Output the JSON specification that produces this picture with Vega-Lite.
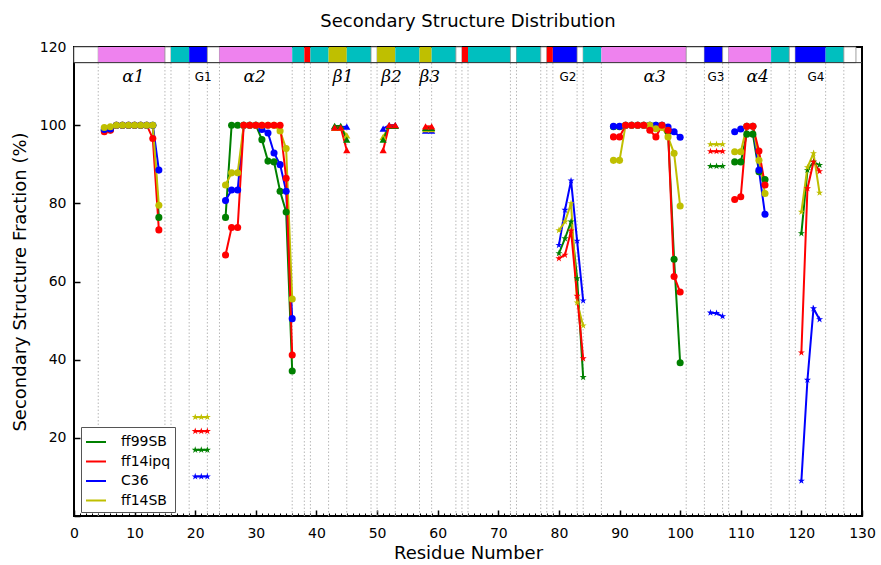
{
  "$schema": "https://vega.github.io/schema/vega-lite/v6.json",
  "width": 788,
  "height": 469,
  "autosize": {"type": "none"},
  "padding": {"left": 74, "top": 47, "right": 19, "bottom": 49},
  "background": "white",
  "title": {"text": "Secondary Structure Distribution", "fontSize": 18, "font": "DejaVu Sans", "fontWeight": "normal", "color": "black", "offset": 9},
  "datasets": {
    "strip": [
      {"s":0,"e":4,"ss":"coil"},{"s":4,"e":15,"ss":"helix"},{"s":15,"e":16,"ss":"coil"},{"s":16,"e":19,"ss":"turn"},
      {"s":19,"e":22,"ss":"g310"},{"s":22,"e":24,"ss":"coil"},{"s":24,"e":36,"ss":"helix"},{"s":36,"e":38,"ss":"turn"},
      {"s":38,"e":39,"ss":"bridge"},{"s":39,"e":42,"ss":"turn"},{"s":42,"e":45,"ss":"strand"},{"s":45,"e":49,"ss":"turn"},
      {"s":49,"e":50,"ss":"coil"},{"s":50,"e":53,"ss":"strand"},{"s":53,"e":57,"ss":"turn"},{"s":57,"e":59,"ss":"strand"},
      {"s":59,"e":63,"ss":"turn"},{"s":63,"e":64,"ss":"coil"},{"s":64,"e":65,"ss":"bridge"},{"s":65,"e":72,"ss":"turn"},
      {"s":72,"e":73,"ss":"coil"},{"s":73,"e":77,"ss":"turn"},{"s":77,"e":78,"ss":"coil"},{"s":78,"e":79,"ss":"bridge"},
      {"s":79,"e":83,"ss":"g310"},{"s":83,"e":84,"ss":"coil"},{"s":84,"e":87,"ss":"turn"},{"s":87,"e":101,"ss":"helix"},
      {"s":101,"e":104,"ss":"coil"},{"s":104,"e":107,"ss":"g310"},{"s":107,"e":108,"ss":"coil"},{"s":108,"e":115,"ss":"helix"},
      {"s":115,"e":118,"ss":"turn"},{"s":118,"e":119,"ss":"coil"},{"s":119,"e":124,"ss":"g310"},{"s":124,"e":127,"ss":"turn"},
      {"s":127,"e":129,"ss":"coil"}
    ],
    "labels": [
      {"x":9.8,"t":"α1"},{"x":21.3,"t":"G1"},{"x":29.8,"t":"α2"},{"x":44.4,"t":"β1"},{"x":52.4,"t":"β2"},{"x":58.7,"t":"β3"},
      {"x":81.5,"t":"G2"},{"x":95.8,"t":"α3"},{"x":105.9,"t":"G3"},{"x":112.8,"t":"α4"},{"x":122.4,"t":"G4"}
    ],
    "ss": [
      {"res":5,"model":"ff99SB","pct":98.7,"region":"a1","kind":"helix"},{"res":6,"model":"ff99SB","pct":98.8,"region":"a1","kind":"helix"},{"res":7,"model":"ff99SB","pct":100,"region":"a1","kind":"helix"},{"res":8,"model":"ff99SB","pct":100,"region":"a1","kind":"helix"},{"res":9,"model":"ff99SB","pct":100,"region":"a1","kind":"helix"},{"res":10,"model":"ff99SB","pct":100,"region":"a1","kind":"helix"},{"res":11,"model":"ff99SB","pct":100,"region":"a1","kind":"helix"},{"res":12,"model":"ff99SB","pct":100,"region":"a1","kind":"helix"},{"res":13,"model":"ff99SB","pct":100,"region":"a1","kind":"helix"},{"res":14,"model":"ff99SB","pct":76.4,"region":"a1","kind":"helix"},
      {"res":5,"model":"ff14ipq","pct":98.3,"region":"a1","kind":"helix"},{"res":6,"model":"ff14ipq","pct":98.7,"region":"a1","kind":"helix"},{"res":7,"model":"ff14ipq","pct":100,"region":"a1","kind":"helix"},{"res":8,"model":"ff14ipq","pct":100,"region":"a1","kind":"helix"},{"res":9,"model":"ff14ipq","pct":100,"region":"a1","kind":"helix"},{"res":10,"model":"ff14ipq","pct":100,"region":"a1","kind":"helix"},{"res":11,"model":"ff14ipq","pct":100,"region":"a1","kind":"helix"},{"res":12,"model":"ff14ipq","pct":100,"region":"a1","kind":"helix"},{"res":13,"model":"ff14ipq","pct":96.6,"region":"a1","kind":"helix"},{"res":14,"model":"ff14ipq","pct":73.2,"region":"a1","kind":"helix"},
      {"res":5,"model":"C36","pct":98.9,"region":"a1","kind":"helix"},{"res":6,"model":"C36","pct":99.0,"region":"a1","kind":"helix"},{"res":7,"model":"C36","pct":100,"region":"a1","kind":"helix"},{"res":8,"model":"C36","pct":100,"region":"a1","kind":"helix"},{"res":9,"model":"C36","pct":100,"region":"a1","kind":"helix"},{"res":10,"model":"C36","pct":100,"region":"a1","kind":"helix"},{"res":11,"model":"C36","pct":100,"region":"a1","kind":"helix"},{"res":12,"model":"C36","pct":100,"region":"a1","kind":"helix"},{"res":13,"model":"C36","pct":100,"region":"a1","kind":"helix"},{"res":14,"model":"C36","pct":88.5,"region":"a1","kind":"helix"},
      {"res":5,"model":"ff14SB","pct":99.4,"region":"a1","kind":"helix"},{"res":6,"model":"ff14SB","pct":99.6,"region":"a1","kind":"helix"},{"res":7,"model":"ff14SB","pct":100,"region":"a1","kind":"helix"},{"res":8,"model":"ff14SB","pct":100,"region":"a1","kind":"helix"},{"res":9,"model":"ff14SB","pct":100,"region":"a1","kind":"helix"},{"res":10,"model":"ff14SB","pct":100,"region":"a1","kind":"helix"},{"res":11,"model":"ff14SB","pct":100,"region":"a1","kind":"helix"},{"res":12,"model":"ff14SB","pct":100,"region":"a1","kind":"helix"},{"res":13,"model":"ff14SB","pct":100,"region":"a1","kind":"helix"},{"res":14,"model":"ff14SB","pct":79.5,"region":"a1","kind":"helix"},

      {"res":25,"model":"ff99SB","pct":76.4,"region":"a2","kind":"helix"},{"res":26,"model":"ff99SB","pct":100,"region":"a2","kind":"helix"},{"res":27,"model":"ff99SB","pct":100,"region":"a2","kind":"helix"},{"res":28,"model":"ff99SB","pct":100,"region":"a2","kind":"helix"},{"res":29,"model":"ff99SB","pct":100,"region":"a2","kind":"helix"},{"res":30,"model":"ff99SB","pct":100,"region":"a2","kind":"helix"},{"res":31,"model":"ff99SB","pct":96.3,"region":"a2","kind":"helix"},{"res":32,"model":"ff99SB","pct":90.8,"region":"a2","kind":"helix"},{"res":33,"model":"ff99SB","pct":90.6,"region":"a2","kind":"helix"},{"res":34,"model":"ff99SB","pct":83.1,"region":"a2","kind":"helix"},{"res":35,"model":"ff99SB","pct":77.8,"region":"a2","kind":"helix"},{"res":36,"model":"ff99SB","pct":37.1,"region":"a2","kind":"helix"},
      {"res":25,"model":"C36","pct":80.7,"region":"a2","kind":"helix"},{"res":26,"model":"C36","pct":83.4,"region":"a2","kind":"helix"},{"res":27,"model":"C36","pct":83.4,"region":"a2","kind":"helix"},{"res":28,"model":"C36","pct":100,"region":"a2","kind":"helix"},{"res":29,"model":"C36","pct":100,"region":"a2","kind":"helix"},{"res":30,"model":"C36","pct":100,"region":"a2","kind":"helix"},{"res":31,"model":"C36","pct":98.9,"region":"a2","kind":"helix"},{"res":32,"model":"C36","pct":98.0,"region":"a2","kind":"helix"},{"res":33,"model":"C36","pct":92.9,"region":"a2","kind":"helix"},{"res":34,"model":"C36","pct":89.9,"region":"a2","kind":"helix"},{"res":35,"model":"C36","pct":83.1,"region":"a2","kind":"helix"},{"res":36,"model":"C36","pct":50.5,"region":"a2","kind":"helix"},
      {"res":25,"model":"ff14SB","pct":84.7,"region":"a2","kind":"helix"},{"res":26,"model":"ff14SB","pct":87.8,"region":"a2","kind":"helix"},{"res":27,"model":"ff14SB","pct":87.8,"region":"a2","kind":"helix"},{"res":28,"model":"ff14SB","pct":100,"region":"a2","kind":"helix"},{"res":29,"model":"ff14SB","pct":100,"region":"a2","kind":"helix"},{"res":30,"model":"ff14SB","pct":100,"region":"a2","kind":"helix"},{"res":31,"model":"ff14SB","pct":100,"region":"a2","kind":"helix"},{"res":32,"model":"ff14SB","pct":100,"region":"a2","kind":"helix"},{"res":33,"model":"ff14SB","pct":100,"region":"a2","kind":"helix"},{"res":34,"model":"ff14SB","pct":98.5,"region":"a2","kind":"helix"},{"res":35,"model":"ff14SB","pct":94.0,"region":"a2","kind":"helix"},{"res":36,"model":"ff14SB","pct":55.5,"region":"a2","kind":"helix"},
      {"res":25,"model":"ff14ipq","pct":66.8,"region":"a2","kind":"helix"},{"res":26,"model":"ff14ipq","pct":73.8,"region":"a2","kind":"helix"},{"res":27,"model":"ff14ipq","pct":73.8,"region":"a2","kind":"helix"},{"res":28,"model":"ff14ipq","pct":100,"region":"a2","kind":"helix"},{"res":29,"model":"ff14ipq","pct":100,"region":"a2","kind":"helix"},{"res":30,"model":"ff14ipq","pct":100,"region":"a2","kind":"helix"},{"res":31,"model":"ff14ipq","pct":100,"region":"a2","kind":"helix"},{"res":32,"model":"ff14ipq","pct":100,"region":"a2","kind":"helix"},{"res":33,"model":"ff14ipq","pct":100,"region":"a2","kind":"helix"},{"res":34,"model":"ff14ipq","pct":100,"region":"a2","kind":"helix"},{"res":35,"model":"ff14ipq","pct":86.4,"region":"a2","kind":"helix"},{"res":36,"model":"ff14ipq","pct":41.2,"region":"a2","kind":"helix"},

      {"res":43,"model":"C36","pct":99.5,"region":"b1","kind":"strand"},{"res":44,"model":"C36","pct":99.5,"region":"b1","kind":"strand"},{"res":45,"model":"C36","pct":99.6,"region":"b1","kind":"strand"},
      {"res":43,"model":"ff14SB","pct":99.3,"region":"b1","kind":"strand"},{"res":44,"model":"ff14SB","pct":99.3,"region":"b1","kind":"strand"},{"res":45,"model":"ff14SB","pct":97.4,"region":"b1","kind":"strand"},
      {"res":43,"model":"ff99SB","pct":99.8,"region":"b1","kind":"strand"},{"res":44,"model":"ff99SB","pct":99.8,"region":"b1","kind":"strand"},{"res":45,"model":"ff99SB","pct":96.3,"region":"b1","kind":"strand"},
      {"res":43,"model":"ff14ipq","pct":99.4,"region":"b1","kind":"strand"},{"res":44,"model":"ff14ipq","pct":99.4,"region":"b1","kind":"strand"},{"res":45,"model":"ff14ipq","pct":93.6,"region":"b1","kind":"strand"},

      {"res":51,"model":"C36","pct":99.1,"region":"b2","kind":"strand"},{"res":52,"model":"C36","pct":100,"region":"b2","kind":"strand"},{"res":53,"model":"C36","pct":100,"region":"b2","kind":"strand"},
      {"res":51,"model":"ff14SB","pct":97.0,"region":"b2","kind":"strand"},{"res":52,"model":"ff14SB","pct":99.8,"region":"b2","kind":"strand"},{"res":53,"model":"ff14SB","pct":99.8,"region":"b2","kind":"strand"},
      {"res":51,"model":"ff99SB","pct":96.3,"region":"b2","kind":"strand"},{"res":52,"model":"ff99SB","pct":99.8,"region":"b2","kind":"strand"},{"res":53,"model":"ff99SB","pct":99.8,"region":"b2","kind":"strand"},
      {"res":51,"model":"ff14ipq","pct":93.6,"region":"b2","kind":"strand"},{"res":52,"model":"ff14ipq","pct":100,"region":"b2","kind":"strand"},{"res":53,"model":"ff14ipq","pct":100,"region":"b2","kind":"strand"},

      {"res":58,"model":"C36","pct":98.6,"region":"b3","kind":"strand"},{"res":59,"model":"C36","pct":98.6,"region":"b3","kind":"strand"},
      {"res":58,"model":"ff14SB","pct":99.0,"region":"b3","kind":"strand"},{"res":59,"model":"ff14SB","pct":99.0,"region":"b3","kind":"strand"},
      {"res":58,"model":"ff99SB","pct":99.3,"region":"b3","kind":"strand"},{"res":59,"model":"ff99SB","pct":99.3,"region":"b3","kind":"strand"},
      {"res":58,"model":"ff14ipq","pct":99.7,"region":"b3","kind":"strand"},{"res":59,"model":"ff14ipq","pct":99.7,"region":"b3","kind":"strand"},

      {"res":20,"model":"ff99SB","pct":16.9,"region":"g1","kind":"g310"},{"res":21,"model":"ff99SB","pct":16.9,"region":"g1","kind":"g310"},{"res":22,"model":"ff99SB","pct":16.9,"region":"g1","kind":"g310"},
      {"res":20,"model":"C36","pct":10.1,"region":"g1","kind":"g310"},{"res":21,"model":"C36","pct":10.1,"region":"g1","kind":"g310"},{"res":22,"model":"C36","pct":10.1,"region":"g1","kind":"g310"},
      {"res":20,"model":"ff14SB","pct":25.3,"region":"g1","kind":"g310"},{"res":21,"model":"ff14SB","pct":25.3,"region":"g1","kind":"g310"},{"res":22,"model":"ff14SB","pct":25.3,"region":"g1","kind":"g310"},
      {"res":20,"model":"ff14ipq","pct":21.7,"region":"g1","kind":"g310"},{"res":21,"model":"ff14ipq","pct":21.7,"region":"g1","kind":"g310"},{"res":22,"model":"ff14ipq","pct":21.7,"region":"g1","kind":"g310"},

      {"res":80,"model":"ff99SB","pct":67.2,"region":"g2","kind":"g310"},{"res":81,"model":"ff99SB","pct":71.0,"region":"g2","kind":"g310"},{"res":82,"model":"ff99SB","pct":75.3,"region":"g2","kind":"g310"},{"res":83,"model":"ff99SB","pct":60.8,"region":"g2","kind":"g310"},{"res":84,"model":"ff99SB","pct":35.5,"region":"g2","kind":"g310"},
      {"res":80,"model":"C36","pct":69.3,"region":"g2","kind":"g310"},{"res":81,"model":"C36","pct":78.3,"region":"g2","kind":"g310"},{"res":82,"model":"C36","pct":85.8,"region":"g2","kind":"g310"},{"res":83,"model":"C36","pct":70.4,"region":"g2","kind":"g310"},{"res":84,"model":"C36","pct":55.1,"region":"g2","kind":"g310"},
      {"res":80,"model":"ff14SB","pct":73.1,"region":"g2","kind":"g310"},{"res":81,"model":"ff14SB","pct":75.3,"region":"g2","kind":"g310"},{"res":82,"model":"ff14SB","pct":80.0,"region":"g2","kind":"g310"},{"res":83,"model":"ff14SB","pct":54.6,"region":"g2","kind":"g310"},{"res":84,"model":"ff14SB","pct":48.7,"region":"g2","kind":"g310"},
      {"res":80,"model":"ff14ipq","pct":65.9,"region":"g2","kind":"g310"},{"res":81,"model":"ff14ipq","pct":66.8,"region":"g2","kind":"g310"},{"res":82,"model":"ff14ipq","pct":73.0,"region":"g2","kind":"g310"},{"res":83,"model":"ff14ipq","pct":56.3,"region":"g2","kind":"g310"},{"res":84,"model":"ff14ipq","pct":40.3,"region":"g2","kind":"g310"},

      {"res":89,"model":"ff99SB","pct":99.6,"region":"a3","kind":"helix"},{"res":90,"model":"ff99SB","pct":99.6,"region":"a3","kind":"helix"},{"res":91,"model":"ff99SB","pct":100,"region":"a3","kind":"helix"},{"res":92,"model":"ff99SB","pct":100,"region":"a3","kind":"helix"},{"res":93,"model":"ff99SB","pct":100,"region":"a3","kind":"helix"},{"res":94,"model":"ff99SB","pct":100,"region":"a3","kind":"helix"},{"res":95,"model":"ff99SB","pct":100,"region":"a3","kind":"helix"},{"res":96,"model":"ff99SB","pct":100,"region":"a3","kind":"helix"},{"res":97,"model":"ff99SB","pct":100,"region":"a3","kind":"helix"},{"res":98,"model":"ff99SB","pct":98.3,"region":"a3","kind":"helix"},{"res":99,"model":"ff99SB","pct":65.7,"region":"a3","kind":"helix"},{"res":100,"model":"ff99SB","pct":39.2,"region":"a3","kind":"helix"},
      {"res":89,"model":"C36","pct":99.7,"region":"a3","kind":"helix"},{"res":90,"model":"C36","pct":99.7,"region":"a3","kind":"helix"},{"res":91,"model":"C36","pct":100,"region":"a3","kind":"helix"},{"res":92,"model":"C36","pct":100,"region":"a3","kind":"helix"},{"res":93,"model":"C36","pct":100,"region":"a3","kind":"helix"},{"res":94,"model":"C36","pct":100,"region":"a3","kind":"helix"},{"res":95,"model":"C36","pct":100,"region":"a3","kind":"helix"},{"res":96,"model":"C36","pct":100,"region":"a3","kind":"helix"},{"res":97,"model":"C36","pct":100,"region":"a3","kind":"helix"},{"res":98,"model":"C36","pct":99.5,"region":"a3","kind":"helix"},{"res":99,"model":"C36","pct":98.3,"region":"a3","kind":"helix"},{"res":100,"model":"C36","pct":96.9,"region":"a3","kind":"helix"},
      {"res":89,"model":"ff14SB","pct":91.0,"region":"a3","kind":"helix"},{"res":90,"model":"ff14SB","pct":91.0,"region":"a3","kind":"helix"},{"res":91,"model":"ff14SB","pct":100,"region":"a3","kind":"helix"},{"res":92,"model":"ff14SB","pct":100,"region":"a3","kind":"helix"},{"res":93,"model":"ff14SB","pct":100,"region":"a3","kind":"helix"},{"res":94,"model":"ff14SB","pct":100,"region":"a3","kind":"helix"},{"res":95,"model":"ff14SB","pct":100,"region":"a3","kind":"helix"},{"res":96,"model":"ff14SB","pct":99.1,"region":"a3","kind":"helix"},{"res":97,"model":"ff14SB","pct":99.4,"region":"a3","kind":"helix"},{"res":98,"model":"ff14SB","pct":97.0,"region":"a3","kind":"helix"},{"res":99,"model":"ff14SB","pct":92.8,"region":"a3","kind":"helix"},{"res":100,"model":"ff14SB","pct":79.3,"region":"a3","kind":"helix"},
      {"res":89,"model":"ff14ipq","pct":97.0,"region":"a3","kind":"helix"},{"res":90,"model":"ff14ipq","pct":97.0,"region":"a3","kind":"helix"},{"res":91,"model":"ff14ipq","pct":100,"region":"a3","kind":"helix"},{"res":92,"model":"ff14ipq","pct":100,"region":"a3","kind":"helix"},{"res":93,"model":"ff14ipq","pct":100,"region":"a3","kind":"helix"},{"res":94,"model":"ff14ipq","pct":100,"region":"a3","kind":"helix"},{"res":95,"model":"ff14ipq","pct":98.7,"region":"a3","kind":"helix"},{"res":96,"model":"ff14ipq","pct":97.0,"region":"a3","kind":"helix"},{"res":97,"model":"ff14ipq","pct":100,"region":"a3","kind":"helix"},{"res":98,"model":"ff14ipq","pct":98.7,"region":"a3","kind":"helix"},{"res":99,"model":"ff14ipq","pct":61.3,"region":"a3","kind":"helix"},{"res":100,"model":"ff14ipq","pct":57.3,"region":"a3","kind":"helix"},

      {"res":105,"model":"ff99SB","pct":89.5,"region":"g3","kind":"g310"},{"res":106,"model":"ff99SB","pct":89.5,"region":"g3","kind":"g310"},{"res":107,"model":"ff99SB","pct":89.5,"region":"g3","kind":"g310"},
      {"res":105,"model":"C36","pct":52.0,"region":"g3","kind":"g310"},{"res":106,"model":"C36","pct":51.9,"region":"g3","kind":"g310"},{"res":107,"model":"C36","pct":51.1,"region":"g3","kind":"g310"},
      {"res":105,"model":"ff14SB","pct":95.1,"region":"g3","kind":"g310"},{"res":106,"model":"ff14SB","pct":95.1,"region":"g3","kind":"g310"},{"res":107,"model":"ff14SB","pct":95.1,"region":"g3","kind":"g310"},
      {"res":105,"model":"ff14ipq","pct":93.3,"region":"g3","kind":"g310"},{"res":106,"model":"ff14ipq","pct":93.3,"region":"g3","kind":"g310"},{"res":107,"model":"ff14ipq","pct":93.3,"region":"g3","kind":"g310"},

      {"res":109,"model":"ff99SB","pct":90.6,"region":"a4","kind":"helix"},{"res":110,"model":"ff99SB","pct":90.6,"region":"a4","kind":"helix"},{"res":111,"model":"ff99SB","pct":97.7,"region":"a4","kind":"helix"},{"res":112,"model":"ff99SB","pct":97.7,"region":"a4","kind":"helix"},{"res":113,"model":"ff99SB","pct":88.1,"region":"a4","kind":"helix"},{"res":114,"model":"ff99SB","pct":86.1,"region":"a4","kind":"helix"},
      {"res":109,"model":"C36","pct":98.3,"region":"a4","kind":"helix"},{"res":110,"model":"C36","pct":99.0,"region":"a4","kind":"helix"},{"res":111,"model":"C36","pct":99.7,"region":"a4","kind":"helix"},{"res":112,"model":"C36","pct":99.7,"region":"a4","kind":"helix"},{"res":113,"model":"C36","pct":88.5,"region":"a4","kind":"helix"},{"res":114,"model":"C36","pct":77.2,"region":"a4","kind":"helix"},
      {"res":109,"model":"ff14SB","pct":93.2,"region":"a4","kind":"helix"},{"res":110,"model":"ff14SB","pct":93.2,"region":"a4","kind":"helix"},{"res":111,"model":"ff14SB","pct":99.7,"region":"a4","kind":"helix"},{"res":112,"model":"ff14SB","pct":99.7,"region":"a4","kind":"helix"},{"res":113,"model":"ff14SB","pct":91.0,"region":"a4","kind":"helix"},{"res":114,"model":"ff14SB","pct":82.5,"region":"a4","kind":"helix"},
      {"res":109,"model":"ff14ipq","pct":81.0,"region":"a4","kind":"helix"},{"res":110,"model":"ff14ipq","pct":81.7,"region":"a4","kind":"helix"},{"res":111,"model":"ff14ipq","pct":99.7,"region":"a4","kind":"helix"},{"res":112,"model":"ff14ipq","pct":99.7,"region":"a4","kind":"helix"},{"res":113,"model":"ff14ipq","pct":93.4,"region":"a4","kind":"helix"},{"res":114,"model":"ff14ipq","pct":84.7,"region":"a4","kind":"helix"},

      {"res":120,"model":"C36","pct":9.0,"region":"g4","kind":"g310"},{"res":121,"model":"C36","pct":34.8,"region":"g4","kind":"g310"},{"res":122,"model":"C36","pct":53.1,"region":"g4","kind":"g310"},{"res":123,"model":"C36","pct":50.3,"region":"g4","kind":"g310"},
      {"res":120,"model":"ff99SB","pct":72.3,"region":"g4","kind":"g310"},{"res":121,"model":"ff99SB","pct":88.5,"region":"g4","kind":"g310"},{"res":122,"model":"ff99SB","pct":90.6,"region":"g4","kind":"g310"},{"res":123,"model":"ff99SB","pct":89.8,"region":"g4","kind":"g310"},
      {"res":120,"model":"ff14ipq","pct":41.8,"region":"g4","kind":"g310"},{"res":121,"model":"ff14ipq","pct":83.8,"region":"g4","kind":"g310"},{"res":122,"model":"ff14ipq","pct":90.6,"region":"g4","kind":"g310"},{"res":123,"model":"ff14ipq","pct":88.2,"region":"g4","kind":"g310"},
      {"res":120,"model":"ff14SB","pct":77.8,"region":"g4","kind":"g310"},{"res":121,"model":"ff14SB","pct":89.2,"region":"g4","kind":"g310"},{"res":122,"model":"ff14SB","pct":92.8,"region":"g4","kind":"g310"},{"res":123,"model":"ff14SB","pct":82.7,"region":"g4","kind":"g310"}
    ]
  },
  "resolve": {"axis": {"x": "independent"}},
  "layer": [
    {
      "data": {"name": "strip"},
      "transform": [{"filter": "datum.s > 0"}],
      "mark": {"type": "rule", "color": "#b8b8b8", "strokeDash": [1.5, 2], "strokeWidth": 1},
      "encoding": {
        "x": {"field": "s", "type": "quantitative", "scale": {"domain": [0, 130], "nice": false, "zero": false},
              "axis": {"orient": "bottom", "title": null, "labels": false, "tickSize": -3, "tickWidth": 1,
                       "values": [1,2,3,4,5,6,7,8,9,11,12,13,14,15,16,17,18,19,21,22,23,24,25,26,27,28,29,31,32,33,34,35,36,37,38,39,41,42,43,44,45,46,47,48,49,51,52,53,54,55,56,57,58,59,61,62,63,64,65,66,67,68,69,71,72,73,74,75,76,77,78,79,81,82,83,84,85,86,87,88,89,91,92,93,94,95,96,97,98,99,101,102,103,104,105,106,107,108,109,111,112,113,114,115,116,117,118,119,121,122,123,124,125,126,127,128,129]}},
        "y": {"datum": 0, "type": "quantitative"},
        "y2": {"datum": 116}
      }
    },
    {
      "data": {"name": "strip"},
      "mark": {"type": "rect", "strokeWidth": 0.8},
      "encoding": {
        "x": {"field": "s", "type": "quantitative", "axis": null},
        "x2": {"field": "e"},
        "y": {"datum": 116, "type": "quantitative"},
        "y2": {"datum": 120},
        "fill": {"field": "ss", "type": "nominal", "legend": null,
                 "scale": {"domain": ["coil", "helix", "turn", "g310", "bridge", "strand"],
                           "range": ["#ffffff", "#ee82ee", "#00bfbf", "#0000ff", "#ff0000", "#bfbf00"]}},
        "stroke": {"condition": {"test": "datum.ss === 'coil'", "value": "#888888"}, "value": "transparent"}
      }
    },
    {
      "data": {"values": [{}]},
      "mark": {"type": "rule", "color": "#333333", "strokeWidth": 1},
      "encoding": {
        "x": {"datum": 0, "type": "quantitative", "axis": null},
        "x2": {"datum": 130},
        "y": {"datum": 116, "type": "quantitative"}
      }
    },
    {
      "data": {"name": "labels"},
      "transform": [{"filter": "indexof(datum.t, 'G') !== 0"}],
      "mark": {"type": "text", "font": "DejaVu Serif", "fontSize": 17, "fontStyle": "italic", "color": "black", "baseline": "middle", "align": "center"},
      "encoding": {
        "x": {"field": "x", "type": "quantitative", "axis": null},
        "y": {"datum": 112.3, "type": "quantitative"},
        "text": {"field": "t"}
      }
    },
    {
      "data": {"name": "labels"},
      "transform": [{"filter": "indexof(datum.t, 'G') === 0"}],
      "mark": {"type": "text", "font": "DejaVu Sans", "fontSize": 12, "color": "black", "baseline": "middle", "align": "center"},
      "encoding": {
        "x": {"field": "x", "type": "quantitative", "axis": null},
        "y": {"datum": 112.3, "type": "quantitative"},
        "text": {"field": "t"}
      }
    },
    {
      "data": {"name": "ss"},
      "mark": {"type": "line", "strokeWidth": 2},
      "encoding": {
        "x": {"field": "res", "type": "quantitative", "scale": {"domain": [0, 130], "nice": false, "zero": false},
              "axis": {"orient": "bottom", "title": "Residue Number", "tickSize": -6, "labelPadding": 16, "titlePadding": 4,
                       "labelFlush": false, "values": [0,10,20,30,40,50,60,70,80,90,100,110,120,130]}},
        "y": {"field": "pct", "type": "quantitative", "scale": {"domain": [0, 120], "nice": false, "zero": false},
              "axis": {"title": "Secondary Structure Fraction (%)", "values": [0,20,40,60,80,100,120],
                       "labelExpr": "datum.value === 0 ? '' : datum.label", "tickSize": -6, "labelPadding": 14, "titlePadding": 10}},
        "color": {"field": "model", "type": "nominal",
                  "scale": {"domain": ["ff99SB", "ff14ipq", "C36", "ff14SB"], "range": ["#008000", "#ff0000", "#0000ff", "#bfbf00"]},
                  "legend": {"title": null}},
        "detail": {"field": "region"},
        "order": {"field": "res"}
      }
    },
    {
      "data": {"name": "ss"},
      "mark": {"type": "point", "filled": true, "opacity": 1},
      "encoding": {
        "x": {"field": "res", "type": "quantitative", "axis": null},
        "y": {"field": "pct", "type": "quantitative"},
        "color": {"field": "model", "type": "nominal", "legend": null},
        "shape": {"field": "kind", "type": "nominal", "legend": null,
                  "scale": {"domain": ["helix", "strand", "g310"],
                            "range": ["circle", "triangle-up", "M0,-1L0.2245,-0.309L0.951,-0.309L0.363,0.118L0.588,0.809L0,0.382L-0.588,0.809L-0.363,0.118L-0.951,-0.309L-0.2245,-0.309Z"]}},
        "size": {"field": "kind", "type": "nominal", "legend": null,
                 "scale": {"domain": ["helix", "strand", "g310"], "range": [50, 55, 130]}}
      }
    }
  ],
  "config": {
    "view": {"stroke": "black", "strokeWidth": 2},
    "axis": {"grid": false, "domain": false, "tickColor": "black", "tickWidth": 1.5,
             "labelFont": "DejaVu Sans", "labelFontSize": 14, "labelColor": "black",
             "titleFont": "DejaVu Sans", "titleFontSize": 18, "titleFontWeight": "normal", "titleColor": "black"},
    "legend": {"orient": "none", "legendX": 7, "legendY": 380, "symbolType": "stroke", "symbolSize": 400,
               "symbolStrokeWidth": 2, "labelFont": "DejaVu Sans", "labelFontSize": 14, "labelColor": "black",
               "strokeColor": "#555555", "fillColor": "white", "padding": 4, "rowPadding": 1.5, "labelOffset": 14}
  }
}
